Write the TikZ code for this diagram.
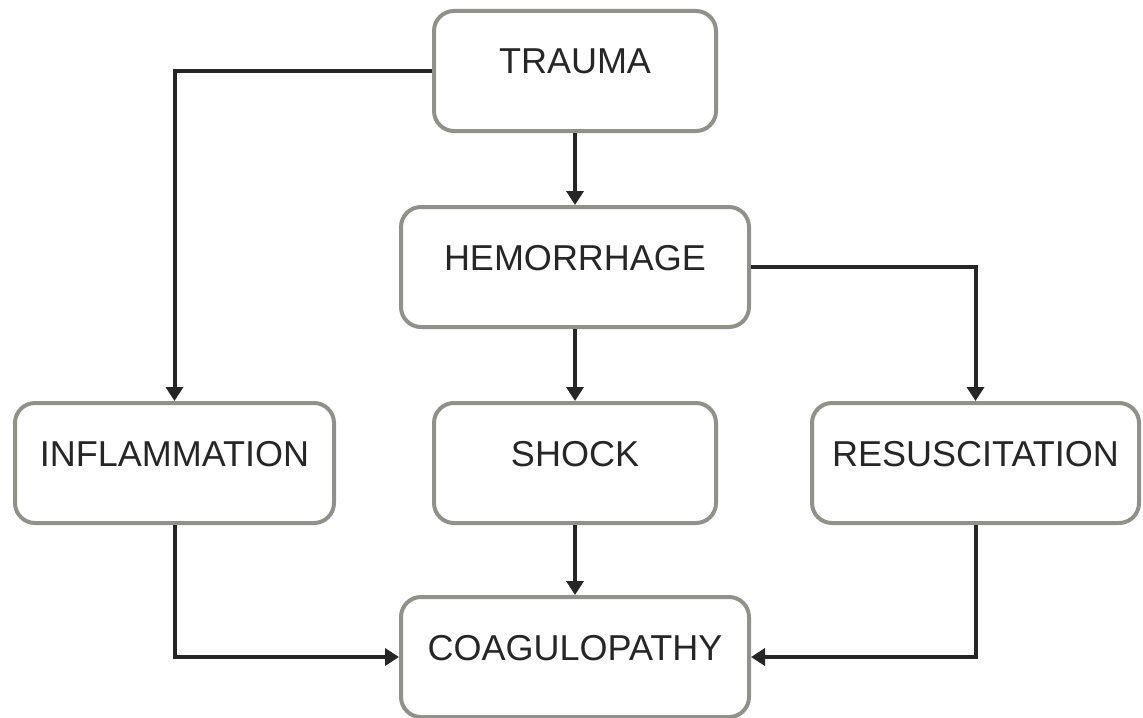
\documentclass[tikz,border=0pt]{standalone}
\usepackage{fontspec}
\setmainfont{Liberation Sans}
\usetikzlibrary{positioning,arrows.meta}
\definecolor{boxgray}{RGB}{145,145,140}
\definecolor{linedark}{RGB}{38,38,38}

\begin{document}
\begin{tikzpicture}[>={Triangle[length=7pt,width=8.5pt]},x=0.5pt,y=0.5pt,node distance=36pt and 47pt,
  stage/.style={draw=boxgray,line width=2pt,rounded corners=10pt,minimum height=60pt,
    text height=13pt,text depth=10pt,font=\fontsize{18}{20}\selectfont,text=linedark},
  flow/.style={->,draw=linedark,line width=2pt}]
\useasboundingbox (0,0) rectangle (1143,-717);
\node[stage,minimum width=141pt] (trauma) at (575,-71) {TRAUMA};
\node[stage,minimum width=174pt,below=of trauma] (hemorrhage) {HEMORRHAGE};
\node[stage,minimum width=141pt,below=of hemorrhage] (shock) {SHOCK};
\node[stage,minimum width=159.5pt,left=48pt of shock] (inflammation) {INFLAMMATION};
\node[stage,minimum width=163.5pt,right=46pt of shock] (resus) {RESUSCITATION};
\node[stage,minimum width=174pt,below=35pt of shock] (coag) {COAGULOPATHY};
\draw[flow] (trauma) -- (hemorrhage);
\draw[flow] (trauma.west) -| (inflammation.north);
\draw[flow] (hemorrhage) -- (shock);
\draw[flow] (hemorrhage.east) -| (resus.north);
\draw[flow] (shock) -- (coag);
\draw[flow] (inflammation.south) |- (coag.west);
\draw[flow] (resus.south) |- (coag.east);
\end{tikzpicture}
\end{document}
